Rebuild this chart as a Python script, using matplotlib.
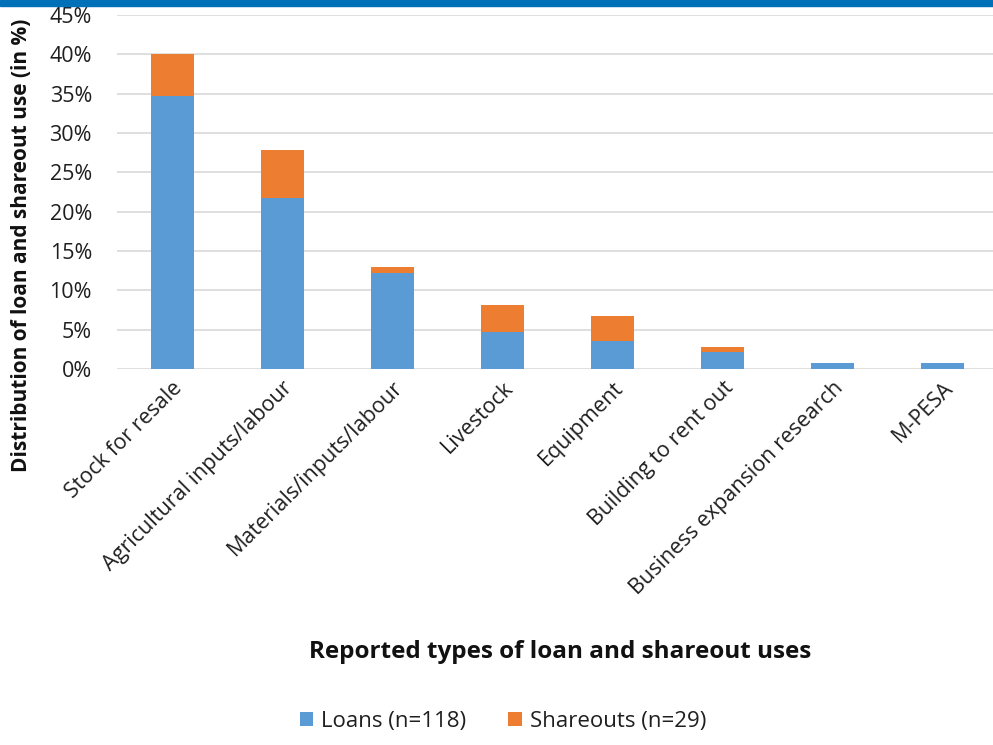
import matplotlib.pyplot as plt
import numpy as np
from matplotlib.patches import Rectangle

plt.rcParams["font.family"] = ["Open Sans", "DejaVu Sans"]

CATEGORIES = [
    "Stock for resale",
    "Agricultural inputs/labour",
    "Materials/inputs/labour",
    "Livestock",
    "Equipment",
    "Building to rent out",
    "Business expansion research",
    "M-PESA",
]
LOANS = [34.7, 21.7, 12.2, 4.7, 3.5, 2.2, 0.7, 0.7]
SHAREOUTS = [5.4, 6.2, 0.8, 3.4, 3.3, 0.6, 0.0, 0.0]
Y_TICKS = [0, 5, 10, 15, 20, 25, 30, 35, 40, 45]

BLUE = "#5B9BD5"
ORANGE = "#ED7D31"
TEXT = "#1f1f1f"

fig = plt.figure(figsize=(9.93, 7.45), dpi=100)
# thin banner across the top edge
fig.patches.append(Rectangle((0, 1 - 6 / 745), 1, 6 / 745, transform=fig.transFigure,
                             color="#0070B8", zorder=10))

ax = fig.add_axes([117 / 993, 1 - 369 / 745, 881 / 993, 354 / 745])
x = np.arange(len(CATEGORIES))
ax.bar(x, LOANS, width=0.39, color=BLUE, label="Loans (n=118)", zorder=3)
ax.bar(x, SHAREOUTS, width=0.39, bottom=LOANS, color=ORANGE,
       label="Shareouts (n=29)", zorder=3)

ax.set_xlim(-0.5, len(CATEGORIES) - 0.5)
ax.set_ylim(0, 45)
ax.set_yticks(Y_TICKS)
ax.set_yticklabels([f"{v}%" for v in Y_TICKS], fontsize=15.5, color=TEXT)
ax.set_xticks(x)
ax.set_xticklabels(CATEGORIES, rotation=45, ha="right", rotation_mode="anchor",
                   fontsize=15.5, color=TEXT)
ax.tick_params(axis="y", length=0, pad=18)
ax.tick_params(axis="x", length=0, pad=6)
ax.grid(axis="y", color="#d9d9d9", lw=1.2, zorder=0)
for s in ax.spines.values():
    s.set_visible(False)

fig.text(22 / 993, 1 - 245 / 745, "Distribution of loan and shareout use (in %)",
         rotation=90, ha="center", va="center", fontsize=15, fontweight="bold",
         color="#111111")
fig.text(560 / 993, 1 - 652 / 745, "Reported types of loan and shareout uses",
         ha="center", va="center", fontsize=17.5, fontweight="bold", color="#111111")

fig.legend(loc="center", bbox_to_anchor=(503 / 993, 1 - 721 / 745), ncol=2,
           frameon=False, fontsize=16, handlelength=0.6, handleheight=0.6,
           handletextpad=0.35, columnspacing=1.9, labelcolor=TEXT)

fig.savefig("out.png", dpi=100, facecolor="white")
